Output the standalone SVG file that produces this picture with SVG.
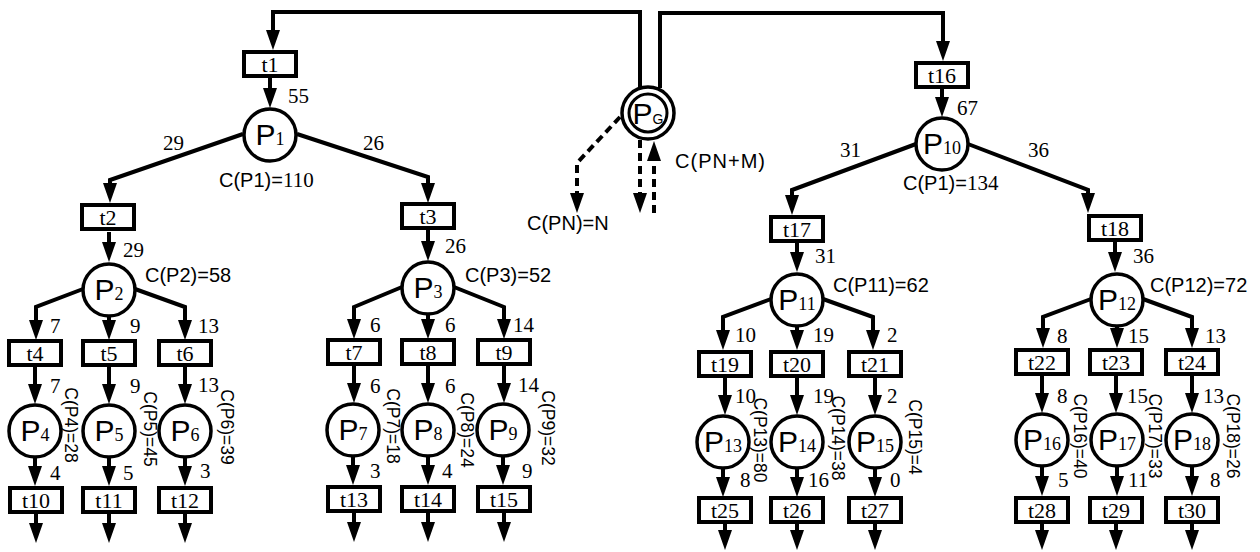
<svg xmlns="http://www.w3.org/2000/svg" width="1260" height="552" viewBox="0 0 1260 552">
<style>
.c{fill:none;stroke:#000;stroke-width:4}
.d{fill:none;stroke:#000;stroke-width:4;stroke-dasharray:8 5}
.box{fill:#fff;stroke:#000;stroke-width:4}
.pl{fill:#fff;stroke:#000;stroke-width:3.5}
.n{font-family:"Liberation Serif",serif;font-size:21px}
.s{font-family:"Liberation Sans",sans-serif;font-size:20px}
.r{font-family:"Liberation Sans",sans-serif;font-size:17.5px;text-anchor:middle}
.t{font-family:"Liberation Serif",serif;font-size:22px;text-anchor:middle}
.pp{text-anchor:middle}
.pb{font-family:"Liberation Sans",sans-serif;font-size:30px}
.ps{font-family:"Liberation Serif",serif;font-size:18px}
</style>
<defs>
<marker id="ah" viewBox="0 0 20 14" refX="12" refY="7" markerWidth="20" markerHeight="14" orient="auto" markerUnits="userSpaceOnUse"><path d="M0,0 L20,7 L0,14 z" fill="#000"/></marker>
</defs>
<g id="connectors" marker-end="url(#ah)">
<path class="c" d="M640,88 V12 H273 V42"/>
<path class="c" d="M660,88 V13 H943 V53"/>
<path class="c" d="M270,78 V100"/>
<path class="c" d="M243,134 L110,180 V195"/>
<path class="c" d="M297,134 L428,177 V195"/>
<path class="c" d="M109,232 V254"/>
<path class="c" d="M83,289 L36,307 V332"/>
<path class="c" d="M109,317 V332"/>
<path class="c" d="M135,289 L185,307 V332"/>
<path class="c" d="M35,366 V396"/>
<path class="c" d="M109,366 V396"/>
<path class="c" d="M185,366 V396"/>
<path class="c" d="M35,457 V478"/>
<path class="c" d="M109,457 V478"/>
<path class="c" d="M185,457 V478"/>
<path class="c" d="M36,513 V535"/>
<path class="c" d="M109,513 V535"/>
<path class="c" d="M185,513 V535"/>
<path class="c" d="M428,230 V253"/>
<path class="c" d="M402,287 L354,307 V331"/>
<path class="c" d="M428,315 V331"/>
<path class="c" d="M454,287 L504,307 V331"/>
<path class="c" d="M354,365 V395"/>
<path class="c" d="M428,365 V395"/>
<path class="c" d="M504,365 V395"/>
<path class="c" d="M353,456 V477"/>
<path class="c" d="M428,456 V477"/>
<path class="c" d="M503,456 V477"/>
<path class="c" d="M354,512 V534"/>
<path class="c" d="M428,512 V534"/>
<path class="c" d="M504,512 V534"/>
<path class="c" d="M942,89 V109"/>
<path class="c" d="M916,144 L792,190 V207"/>
<path class="c" d="M968,144 L1088,190 V205"/>
<path class="c" d="M797,243 V264"/>
<path class="c" d="M771,299 L723,317 V342"/>
<path class="c" d="M797,327 V342"/>
<path class="c" d="M823,299 L873,317 V342"/>
<path class="c" d="M725,377 V407"/>
<path class="c" d="M797,377 V407"/>
<path class="c" d="M875,377 V407"/>
<path class="c" d="M723,468 V489"/>
<path class="c" d="M797,468 V489"/>
<path class="c" d="M875,468 V489"/>
<path class="c" d="M725,523 V542"/>
<path class="c" d="M797,523 V542"/>
<path class="c" d="M875,523 V542"/>
<path class="c" d="M1115,242 V264"/>
<path class="c" d="M1091,299 L1043,317 V340"/>
<path class="c" d="M1117,327 V340"/>
<path class="c" d="M1143,299 L1192,317 V340"/>
<path class="c" d="M1042,375 V405"/>
<path class="c" d="M1116,375 V405"/>
<path class="c" d="M1192,375 V405"/>
<path class="c" d="M1042,466 V488"/>
<path class="c" d="M1117,466 V488"/>
<path class="c" d="M1192,466 V488"/>
<path class="c" d="M1042,523 V542"/>
<path class="c" d="M1116,523 V542"/>
<path class="c" d="M1192,523 V542"/>
<path class="d" d="M620,117 L577,163 V205"/>
<path class="d" d="M640,140 V205"/>
<path class="d" d="M654,213 V149"/>
</g>
<g id="edge-labels" class="n">
<text x="288" y="103">55</text>
<text x="163" y="150">29</text>
<text x="363" y="150">26</text>
<text x="123" y="257">29</text>
<text x="50" y="333">7</text><text x="130" y="333">9</text><text x="198" y="333">13</text>
<text x="50" y="393">7</text><text x="130" y="393">9</text><text x="198" y="392">13</text>
<text x="50" y="480">4</text><text x="123" y="480">5</text><text x="200" y="478">3</text>
<text x="445" y="253">26</text>
<text x="370" y="332">6</text><text x="445" y="332">6</text><text x="513" y="332">14</text>
<text x="370" y="393">6</text><text x="445" y="393">6</text><text x="518" y="392">14</text>
<text x="370" y="478">3</text><text x="442" y="478">4</text><text x="522" y="478">9</text>
<text x="957" y="115">67</text>
<text x="840" y="157">31</text>
<text x="1028" y="157">36</text>
<text x="815" y="263">31</text>
<text x="735" y="342">10</text><text x="813" y="342">19</text><text x="887" y="342">2</text>
<text x="735" y="403">10</text><text x="813" y="403">19</text><text x="887" y="403">2</text>
<text x="740" y="487">8</text><text x="808" y="487">16</text><text x="890" y="487">0</text>
<text x="1133" y="263">36</text>
<text x="1057" y="343">8</text><text x="1128" y="343">15</text><text x="1205" y="343">13</text>
<text x="1057" y="403">8</text><text x="1127" y="403">15</text><text x="1203" y="403">13</text>
<text x="1058" y="487">5</text><text x="1128" y="487">11</text><text x="1210" y="487">8</text>
</g>
<g id="PG">
<circle class="pl" cx="648" cy="113" r="26"/>
<circle fill="none" stroke="#000" stroke-width="3" cx="648" cy="113" r="19"/>
<text class="pp" x="648" y="124"><tspan class="pb" font-size="27">P</tspan><tspan font-family="Liberation Sans, sans-serif" font-size="14">G</tspan></text>
<text class="s" x="527" y="230">C(PN)=N</text>
<text class="s" x="675" y="168" textLength="90">C(PN+M)</text>
</g>
<g id="t1"><rect class="box" x="244" y="52" width="52" height="24"/><text class="t" x="270" y="71.5">t1</text></g>
<g id="P1"><circle class="pl" cx="270" cy="135" r="26"/><text class="pp" x="270" y="145"><tspan class="pb">P</tspan><tspan class="ps">1</tspan></text>
<text class="s" x="219" y="187" font-size="19">C(P1)=<tspan font-family="Liberation Serif, serif" font-size="21">110</tspan></text></g>
<g id="t2"><rect class="box" x="82" y="205" width="52" height="24"/><text class="t" x="108" y="224.5">t2</text></g>
<g id="t3"><rect class="box" x="402" y="204" width="52" height="24"/><text class="t" x="428" y="223.5">t3</text></g>
<g id="P2"><circle class="pl" cx="109" cy="290" r="26"/><text class="pp" x="109" y="300"><tspan class="pb">P</tspan><tspan class="ps">2</tspan></text><text class="s" x="145" y="282">C(P2)=58</text></g>
<g id="P3"><circle class="pl" cx="428" cy="288" r="26"/><text class="pp" x="428" y="298"><tspan class="pb">P</tspan><tspan class="ps">3</tspan></text><text class="s" x="465" y="282">C(P3)=52</text></g>
<g id="t4"><rect class="box" x="9" y="341" width="52" height="24"/><text class="t" x="35" y="360.5">t4</text></g>
<g id="t5"><rect class="box" x="83" y="341" width="52" height="24"/><text class="t" x="109" y="360.5">t5</text></g>
<g id="t6"><rect class="box" x="159" y="341" width="52" height="24"/><text class="t" x="185" y="360.5">t6</text></g>
<g id="t7"><rect class="box" x="328" y="340" width="52" height="24"/><text class="t" x="354" y="359.5">t7</text></g>
<g id="t8"><rect class="box" x="402" y="340" width="52" height="24"/><text class="t" x="428" y="359.5">t8</text></g>
<g id="t9"><rect class="box" x="478" y="340" width="52" height="24"/><text class="t" x="504" y="359.5">t9</text></g>
<g id="P4"><circle class="pl" cx="35" cy="431" r="26"/><text class="pp" x="35" y="441"><tspan class="pb">P</tspan><tspan class="ps">4</tspan></text><text class="r" transform="translate(71,425) rotate(90)" y="6">C(P4)=28</text></g>
<g id="P5"><circle class="pl" cx="109" cy="431" r="26"/><text class="pp" x="109" y="441"><tspan class="pb">P</tspan><tspan class="ps">5</tspan></text><text class="r" transform="translate(150,429) rotate(90)" y="6">C(P5)=45</text></g>
<g id="P6"><circle class="pl" cx="185" cy="431" r="26"/><text class="pp" x="185" y="441"><tspan class="pb">P</tspan><tspan class="ps">6</tspan></text><text class="r" transform="translate(227,427) rotate(90)" y="6">C(P6)=39</text></g>
<g id="P7"><circle class="pl" cx="353" cy="430" r="26"/><text class="pp" x="353" y="440"><tspan class="pb">P</tspan><tspan class="ps">7</tspan></text><text class="r" transform="translate(393,426) rotate(90)" y="6">C(P7)=18</text></g>
<g id="P8"><circle class="pl" cx="428" cy="430" r="26"/><text class="pp" x="428" y="440"><tspan class="pb">P</tspan><tspan class="ps">8</tspan></text><text class="r" transform="translate(467,430) rotate(90)" y="6">C(P8)=24</text></g>
<g id="P9"><circle class="pl" cx="503" cy="430" r="26"/><text class="pp" x="503" y="440"><tspan class="pb">P</tspan><tspan class="ps">9</tspan></text><text class="r" transform="translate(548,428) rotate(90)" y="6">C(P9)=32</text></g>
<g id="t10"><rect class="box" x="10" y="488" width="52" height="24"/><text class="t" x="36" y="507.5">t10</text></g>
<g id="t11"><rect class="box" x="83" y="488" width="52" height="24"/><text class="t" x="109" y="507.5">t11</text></g>
<g id="t12"><rect class="box" x="159" y="488" width="52" height="24"/><text class="t" x="185" y="507.5">t12</text></g>
<g id="t13"><rect class="box" x="328" y="487" width="52" height="24"/><text class="t" x="354" y="506.5">t13</text></g>
<g id="t14"><rect class="box" x="402" y="487" width="52" height="24"/><text class="t" x="428" y="506.5">t14</text></g>
<g id="t15"><rect class="box" x="478" y="487" width="52" height="24"/><text class="t" x="504" y="506.5">t15</text></g>
<g id="t16"><rect class="box" x="916" y="63" width="52" height="24"/><text class="t" x="942" y="82.5">t16</text></g>
<g id="P10"><circle class="pl" cx="942" cy="144" r="26"/><text class="pp" x="942" y="154"><tspan class="pb">P</tspan><tspan class="ps">10</tspan></text>
<text class="s" x="903" y="190" font-size="19">C(P1)=<tspan font-family="Liberation Serif, serif" font-size="21">134</tspan></text></g>
<g id="t17"><rect class="box" x="771" y="217" width="52" height="24"/><text class="t" x="797" y="236.5">t17</text></g>
<g id="t18"><rect class="box" x="1089" y="216" width="52" height="24"/><text class="t" x="1115" y="235.5">t18</text></g>
<g id="P11"><circle class="pl" cx="797" cy="300" r="26"/><text class="pp" x="797" y="310"><tspan class="pb">P</tspan><tspan class="ps">11</tspan></text><text class="s" x="833" y="292">C(P11)=62</text></g>
<g id="P12"><circle class="pl" cx="1117" cy="300" r="26"/><text class="pp" x="1117" y="310"><tspan class="pb">P</tspan><tspan class="ps">12</tspan></text><text class="s" x="1150" y="292">C(P12)=72</text></g>
<g id="t19"><rect class="box" x="699" y="352" width="52" height="24"/><text class="t" x="725" y="371.5">t19</text></g>
<g id="t20"><rect class="box" x="771" y="352" width="52" height="24"/><text class="t" x="797" y="371.5">t20</text></g>
<g id="t21"><rect class="box" x="849" y="352" width="52" height="24"/><text class="t" x="875" y="371.5">t21</text></g>
<g id="t22"><rect class="box" x="1016" y="350" width="52" height="24"/><text class="t" x="1042" y="369.5">t22</text></g>
<g id="t23"><rect class="box" x="1090" y="350" width="52" height="24"/><text class="t" x="1116" y="369.5">t23</text></g>
<g id="t24"><rect class="box" x="1166" y="350" width="52" height="24"/><text class="t" x="1192" y="369.5">t24</text></g>
<g id="P13"><circle class="pl" cx="723" cy="442" r="26"/><text class="pp" x="723" y="452"><tspan class="pb">P</tspan><tspan class="ps">13</tspan></text><text class="r" transform="translate(760,440) rotate(90)" y="6">C(P13)=80</text></g>
<g id="P14"><circle class="pl" cx="797" cy="442" r="26"/><text class="pp" x="797" y="452"><tspan class="pb">P</tspan><tspan class="ps">14</tspan></text><text class="r" transform="translate(838,438) rotate(90)" y="6">C(P14)=38</text></g>
<g id="P15"><circle class="pl" cx="875" cy="442" r="26"/><text class="pp" x="875" y="452"><tspan class="pb">P</tspan><tspan class="ps">15</tspan></text><text class="r" transform="translate(915,437) rotate(90)" y="6">C(P15)=4</text></g>
<g id="P16"><circle class="pl" cx="1042" cy="440" r="26"/><text class="pp" x="1042" y="450"><tspan class="pb">P</tspan><tspan class="ps">16</tspan></text><text class="r" transform="translate(1080,436) rotate(90)" y="6">C(P16)=40</text></g>
<g id="P17"><circle class="pl" cx="1117" cy="440" r="26"/><text class="pp" x="1117" y="450"><tspan class="pb">P</tspan><tspan class="ps">17</tspan></text><text class="r" transform="translate(1155,436) rotate(90)" y="6">C(P17)=33</text></g>
<g id="P18"><circle class="pl" cx="1192" cy="440" r="26"/><text class="pp" x="1192" y="450"><tspan class="pb">P</tspan><tspan class="ps">18</tspan></text><text class="r" transform="translate(1233,436) rotate(90)" y="6">C(P18)=26</text></g>
<g id="t25"><rect class="box" x="699" y="498" width="52" height="24"/><text class="t" x="725" y="517.5">t25</text></g>
<g id="t26"><rect class="box" x="771" y="498" width="52" height="24"/><text class="t" x="797" y="517.5">t26</text></g>
<g id="t27"><rect class="box" x="849" y="498" width="52" height="24"/><text class="t" x="875" y="517.5">t27</text></g>
<g id="t28"><rect class="box" x="1016" y="498" width="52" height="24"/><text class="t" x="1042" y="517.5">t28</text></g>
<g id="t29"><rect class="box" x="1090" y="498" width="52" height="24"/><text class="t" x="1116" y="517.5">t29</text></g>
<g id="t30"><rect class="box" x="1166" y="498" width="52" height="24"/><text class="t" x="1192" y="517.5">t30</text></g>
</svg>
